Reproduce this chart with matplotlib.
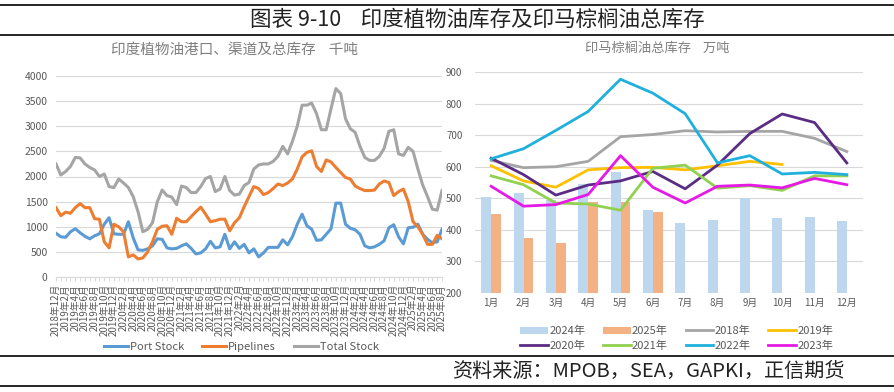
import numpy as np
import matplotlib
matplotlib.use('Agg')
import matplotlib.pyplot as plt
from matplotlib.lines import Line2D

plt.rcParams['font.family'] = ['Noto Sans CJK SC', 'DejaVu Sans']

# 左图：印度植物油库存（千吨），2018年12月 - 2025年8月
months = []
for y in range(2018, 2026):
    for m in range(1, 13):
        if (y == 2018 and m < 12) or (y == 2025 and m > 8):
            continue
        months.append('%d年%d月' % (y, m))

port_stock = [870, 800, 790, 900, 960, 880, 810, 760, 820, 860, 1050, 1180, 860, 850, 850, 1100,
              780, 540, 530, 560, 620, 760, 750, 580, 560, 570, 620, 660, 570, 460, 480, 560,
              710, 580, 600, 850, 560, 700, 570, 650, 480, 560, 400, 480, 590, 590, 590, 740,
              640, 800, 1050, 1250, 1020, 950, 730, 740, 850, 960, 1470, 1470, 1050, 970, 940, 850,
              620, 580, 600, 650, 720, 980, 1040, 800, 660, 980, 990, 1050, 850, 750, 680, 700, 950]
pipelines = [1380, 1220, 1290, 1270, 1380, 1460, 1380, 1380, 1160, 1150, 700, 580, 1050, 1000, 900, 400,
             440, 360, 380, 500, 700, 950, 1010, 1020, 850, 1170, 1100, 1100, 1200, 1300, 1390, 1250,
             1100, 1120, 1150, 1150, 920, 1080, 1180, 1400, 1600, 1800, 1760, 1640, 1680, 1760, 1850, 1820,
             1870, 1950, 2150, 2390, 2480, 2510, 2200, 2100, 2330, 2290, 2180, 2080, 1980, 1950, 1810, 1760,
             1720, 1720, 1730, 1850, 1910, 1880, 1620, 1700, 1750, 1500, 1100, 1000, 850, 650, 650, 830, 760]
total_stock = [2250, 2030, 2100, 2200, 2380, 2370, 2250, 2180, 2130, 2000, 2050, 1800, 1780, 1950, 1870, 1780,
               1600, 1300, 900, 950, 1080, 1500, 1730, 1620, 1590, 1440, 1810, 1780, 1680, 1680, 1800, 1960,
               2000, 1700, 1750, 2000, 1720, 1630, 1650, 1820, 1880, 2150, 2230, 2250, 2250, 2300, 2400, 2600,
               2450, 2700, 3000, 3420, 3420, 3460, 3250, 2930, 2930, 3350, 3750, 3650, 3150, 2950, 2880, 2600,
               2380, 2320, 2320, 2400, 2560, 2900, 2930, 2450, 2420, 2580, 2500, 2150, 1830, 1600, 1350, 1330, 1720]

# 右图：印马棕榈油总库存（万吨）
month_labels = ['%d月' % m for m in range(1, 13)]
bar_2024 = [505, 518, 495, 545, 584, 464, 423, 432, 502, 438, 441, 428]
bar_2025 = [450, 375, 357, 489, 489, 455]
line_2018 = [620, 597, 600, 617, 695, 702, 714, 710, 712, 712, 690, 648]
line_2019 = [603, 555, 535, 590, 597, 598, 590, 603, 617, 607]
line_2020 = [627, 575, 510, 542, 555, 585, 530, 605, 705, 767, 740, 612]
line_2021 = [571, 543, 485, 482, 462, 595, 605, 532, 540, 525, 571, 571]
line_2022 = [625, 657, 715, 775, 877, 833, 768, 612, 635, 577, 582, 575]
line_2023 = [538, 475, 480, 512, 635, 535, 485, 538, 542, 533, 563, 543]

W, H = 895, 392
fig = plt.figure(figsize=(W / 100, H / 100), dpi=100)

def px_axes(x0, y0, x1, y1):
    return fig.add_axes([x0 / W, 1 - y1 / H, (x1 - x0) / W, (y1 - y0) / H])

# 标题和横线
for yy in [5, 35, 356, 386]:
    fig.add_artist(Line2D([0, 1], [1 - yy / H, 1 - yy / H], color='black', lw=1.2))
fig.text(0.533, 1 - 20 / H, '图表 9-10    印度植物油库存及印马棕榈油总库存', ha='center', va='center',
         fontsize=15.5, color='#222222')
fig.text(845 / W, 1 - 371 / H, '资料来源：MPOB，SEA，GAPKI，正信期货', ha='right', va='center',
         fontsize=14.5, color='#222222')
# 子图标题
fig.text(235 / W, 1 - 50 / H, '印度植物油港口、渠道及总库存    千吨', ha='center', va='center',
         fontsize=10.5, color='#7F7F7F')
fig.text(657 / W, 1 - 48 / H, '印马棕榈油总库存    万吨', ha='center', va='center',
         fontsize=9.5, color='#7F7F7F')

grey = '#595959'

# 左图
ax1 = px_axes(56, 76, 442, 277)
x = np.arange(len(months))
ax1.plot(x, port_stock, color='#5B9BD5', lw=2.2, label='Port Stock')
ax1.plot(x, pipelines, color='#ED7D31', lw=2.2, label='Pipelines')
ax1.plot(x, total_stock, color='#A5A5A5', lw=2.2, label='Total Stock')
ax1.set_xlim(0, len(months) - 1)
ax1.set_ylim(0, 4000)
ax1.set_yticks(np.arange(0, 4001, 500))
ax1.yaxis.grid(True, color='#D9D9D9', lw=0.8)
ax1.set_axisbelow(True)
ax1.set_xticks(x[::2])
ax1.set_xticklabels(months[::2], rotation=90, fontsize=7, color=grey)
ax1.set_xticks(x, minor=True)
ax1.tick_params(axis='x', which='both', length=3, color='#D9D9D9', pad=2)
ax1.tick_params(axis='y', length=0, labelsize=7.5, labelcolor=grey, pad=6)
for s in ['top', 'right', 'left']:
    ax1.spines[s].set_visible(False)
ax1.spines['bottom'].set_color('#D9D9D9')
ax1.legend(loc='center', bbox_to_anchor=(0.48, -0.35), ncol=3, frameon=False, fontsize=8,
           labelcolor=grey, handlelength=2.2, columnspacing=1.6, handletextpad=0.15)

# 右图
ax2 = px_axes(475, 72, 863, 293)
xm = np.arange(12)
ax2.bar(xm - 0.15, bar_2024, width=0.3, color='#BDD7EE', label='2024年')
ax2.bar(np.arange(len(bar_2025)) + 0.15, bar_2025, width=0.3, color='#F4B183', label='2025年')
ax2.plot(xm, line_2018, color='#A5A5A5', lw=2, label='2018年')
ax2.plot(np.arange(len(line_2019)), line_2019, color='#FFC000', lw=2, label='2019年')
ax2.plot(xm, line_2020, color='#5B2C83', lw=2, label='2020年')
ax2.plot(xm, line_2021, color='#92D050', lw=2, label='2021年')
ax2.plot(xm, line_2022, color='#1FB0DC', lw=2, label='2022年')
ax2.plot(xm, line_2023, color='#E619E6', lw=2, label='2023年')
ax2.set_xlim(-0.5, 11.5)
ax2.set_ylim(200, 900)
ax2.set_yticks(np.arange(200, 901, 100))
ax2.set_xticks(xm)
ax2.set_xticklabels(month_labels, fontsize=7, color=grey)
ax2.yaxis.grid(True, color='#D9D9D9', lw=0.8)
ax2.set_axisbelow(True)
ax2.tick_params(axis='both', length=0, labelsize=7, labelcolor=grey)
ax2.tick_params(axis='y', pad=9)
for s in ['top', 'right', 'left', 'bottom']:
    ax2.spines[s].set_visible(False)

handles, labels = ax2.get_legend_handles_labels()
# 图例按行排列：2024年 2025年 2018年 2019年 / 2020年 2021年 2022年 2023年
by_label = dict(zip(labels, handles))
order = ['2024年', '2020年', '2025年', '2021年', '2018年', '2022年', '2019年', '2023年']
ax2.legend([by_label[k] for k in order], order, loc='center', bbox_to_anchor=(0.52, -0.205), ncol=4,
           frameon=False, fontsize=8, labelcolor=grey, handlelength=2.5, columnspacing=1.6,
           handletextpad=0.1, labelspacing=0.35)

fig.savefig('out.png', dpi=100)
